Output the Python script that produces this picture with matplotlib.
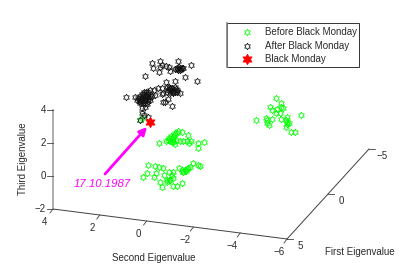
import numpy as np
import matplotlib
matplotlib.use("Agg")
import matplotlib.pyplot as plt
from matplotlib.path import Path
from matplotlib.patches import Rectangle

plt.rcParams['font.family'] = ['Liberation Sans', 'DejaVu Sans']

# Positions of the points as read on the projected picture plane
before_x = [159,166,168,170,172,173,171,175,178,182,188,180,183,187,189,191,198,204,198,173,175,169,173,176,172,174,177,
            148,155,159,163,147,143,156,154,164,169,173,172,160,162,167,170,173,173,177,182,179,182,183,185,187,188,190,193,198,183,186,169,167,200,
            276,281,270,272,277,281,283,280,276,301,256,266,267,272,269,267,281,286,287,287,289,286,291,295,287,
            142,140]
before_y = [143,141,140,141,138,137,136,133,131,132,135,141,141,141,143,141,143,142,148,142,144,138,140,140,142,135,133,
            165,166,167,168,173,177,173,177,175,172,172,175,182,187,182,180,178,186,186,183,168,170,172,170,169,168,167,163,165,172,171,180,180,166,
            98,103,107,110,109,107,108,113,113,115,120,118,120,119,125,123,119,120,117,124,123,127,132,132,122,
            118,120]
after_x = [152,160,178,191,153,159,160,162,166,170,169,175,177,180,182,178,183,145,185,197,166,175,126,135,
           150,154,158,162,167,170,175,177,180,167,170,173,163,162,165,163,168,172,155,148,140,142,145,142,144,140,148,
           140,142,144,146,148,150,152,138,141,143,145,147,149,140,142,144,146,148,143,145,147,141,144,146,139,150,137,
           170,172,174,176,168,171,173,175,177,169,179,181,177,180]
after_y = [63,61,61,65,68,72,67,65,66,71,67,69,68,68,68,70,68,76,77,81,82,81,97,97,
           90,90,88,88,87,88,87,90,93,92,93,92,93,94,102,102,99,106,95,92,103,108,107,113,115,120,117,
           96,94,92,92,94,96,96,98,98,97,96,97,98,100,100,100,100,101,103,103,104,102,94,95,101,100,100,
           89,88,90,89,90,91,93,92,92,87,67,69,69,70]
monday_x = [150]
monday_y = [122]

labels = ["Before Black Monday", "After Black Monday", "Black Monday"]
first_ticks = [5, 0, -5]
second_ticks = [4, 2, 0, -2, -4, -6]
third_ticks = [-2, 0, 2, 4]

def project(first, second, third):
    """Fixed view of the 3D box onto the picture plane."""
    return (53 + (4 - second) * 23.4 + (5 - first) * 8.2,
            209 + (4 - second) * 3.0 + (5 - first) * -9.0 + (third + 2) * -16.5)

fig = plt.figure(figsize=(4.07, 2.70), dpi=100)
ax = fig.add_axes([0, 0, 1, 1])
ax.set_xlim(0, 407)
ax.set_ylim(270, 0)
ax.axis('off')

FS = 7.0
TC = '#2a2a2a'
AX = '#404040'

# box axes
p = [project(5, 4, -2), project(5, -6, -2), project(-5, -6, -2), project(5, 4, 4)]
ax.plot([p[0][0], p[1][0]], [p[0][1], p[1][1]], color=AX, lw=0.7)
ax.plot([p[1][0], p[2][0]], [p[1][1], p[2][1]], color=AX, lw=0.7)
ax.plot([p[0][0], p[3][0]], [p[0][1], p[3][1]], color='#a0a0a0', lw=1.2)

for v in third_ticks:
    x, y = project(5, 4, v)
    ax.plot([x, x - 6], [y, y], color=AX, lw=0.6)
    ax.text(x - 7, y, str(v).replace('-', '\u2212'), ha='right', va='center', fontsize=FS, color=TC)
for v in second_ticks:
    x, y = project(5, v, -2)
    ax.plot([x, x - 3], [y, y + 4], color=AX, lw=0.6)
    ax.text(x - 8, y + 13, str(v).replace('-', '\u2212'), ha='center', va='center', fontsize=FS, color=TC)
for v in first_ticks:
    x, y = project(v, -6, -2)
    ax.plot([x, x + 6], [y, y], color=AX, lw=0.6)
    ax.text(x + 13, y + 7, str(v).replace('-', '\u2212'), ha='center', va='center', fontsize=FS, color=TC)

ax.text(154, 258, "Second Eigenvalue", ha='center', va='center', fontsize=FS, color=TC)
ax.text(360, 252, "First Eigenvalue", ha='center', va='center', fontsize=FS, color=TC)
ax.text(23, 159, "Third Eigenvalue", ha='center', va='center', rotation=90, fontsize=FS, color=TC)

# MATLAB-style hexagram: outer radius 1, inner radius 1/sqrt(3)
ang = np.pi / 2 + np.arange(12) * np.pi / 6
rad = np.where(np.arange(12) % 2 == 0, 1.0, 1 / np.sqrt(3))
verts = np.column_stack([rad * np.cos(ang), rad * np.sin(ang)])
hexagram = Path(np.vstack([verts, verts[:1]]), closed=True)

ax.plot(before_x, before_y, ls='none', marker=hexagram, ms=4.7, mfc='none', mec='#00ff00', mew=0.55)
ax.plot(after_x, after_y, ls='none', marker=hexagram, ms=4.7, mfc='none', mec='#111111', mew=0.55)
ax.plot(monday_x, monday_y, ls='none', marker=hexagram, ms=7.5, mfc='#ff0000', mec='#ff0000', mew=0.5)

# annotation
ax.annotate("", xy=(147, 127), xytext=(105, 174),
            arrowprops=dict(arrowstyle='-|>', color='#ff00ff', lw=2.0, mutation_scale=11, shrinkA=0, shrinkB=0))
ax.text(102.5, 184, "17.10.1987", ha='center', va='center', style='italic', fontsize=8.2, color='#ff00ff')

# legend
ax.add_patch(Rectangle((227, 23), 132, 44, fc='white', ec='#333333', lw=0.7, zorder=5))
ax.plot([227, 227], [23, 67], color='#808080', lw=1.2, zorder=6)
rows = [32, 46, 59]
styles = [dict(ms=4.7, mfc='none', mec='#00ff00', mew=0.55),
          dict(ms=4.7, mfc='none', mec='#111111', mew=0.55),
          dict(ms=7.5, mfc='#ff0000', mec='#ff0000', mew=0.5)]
for y, lab, st in zip(rows, labels, styles):
    ax.plot([247], [y], ls='none', marker=hexagram, zorder=6, **st)
    ax.text(265, y, lab, ha='left', va='center', fontsize=FS, color=TC, zorder=6)

fig.savefig("out.png", dpi=100)
